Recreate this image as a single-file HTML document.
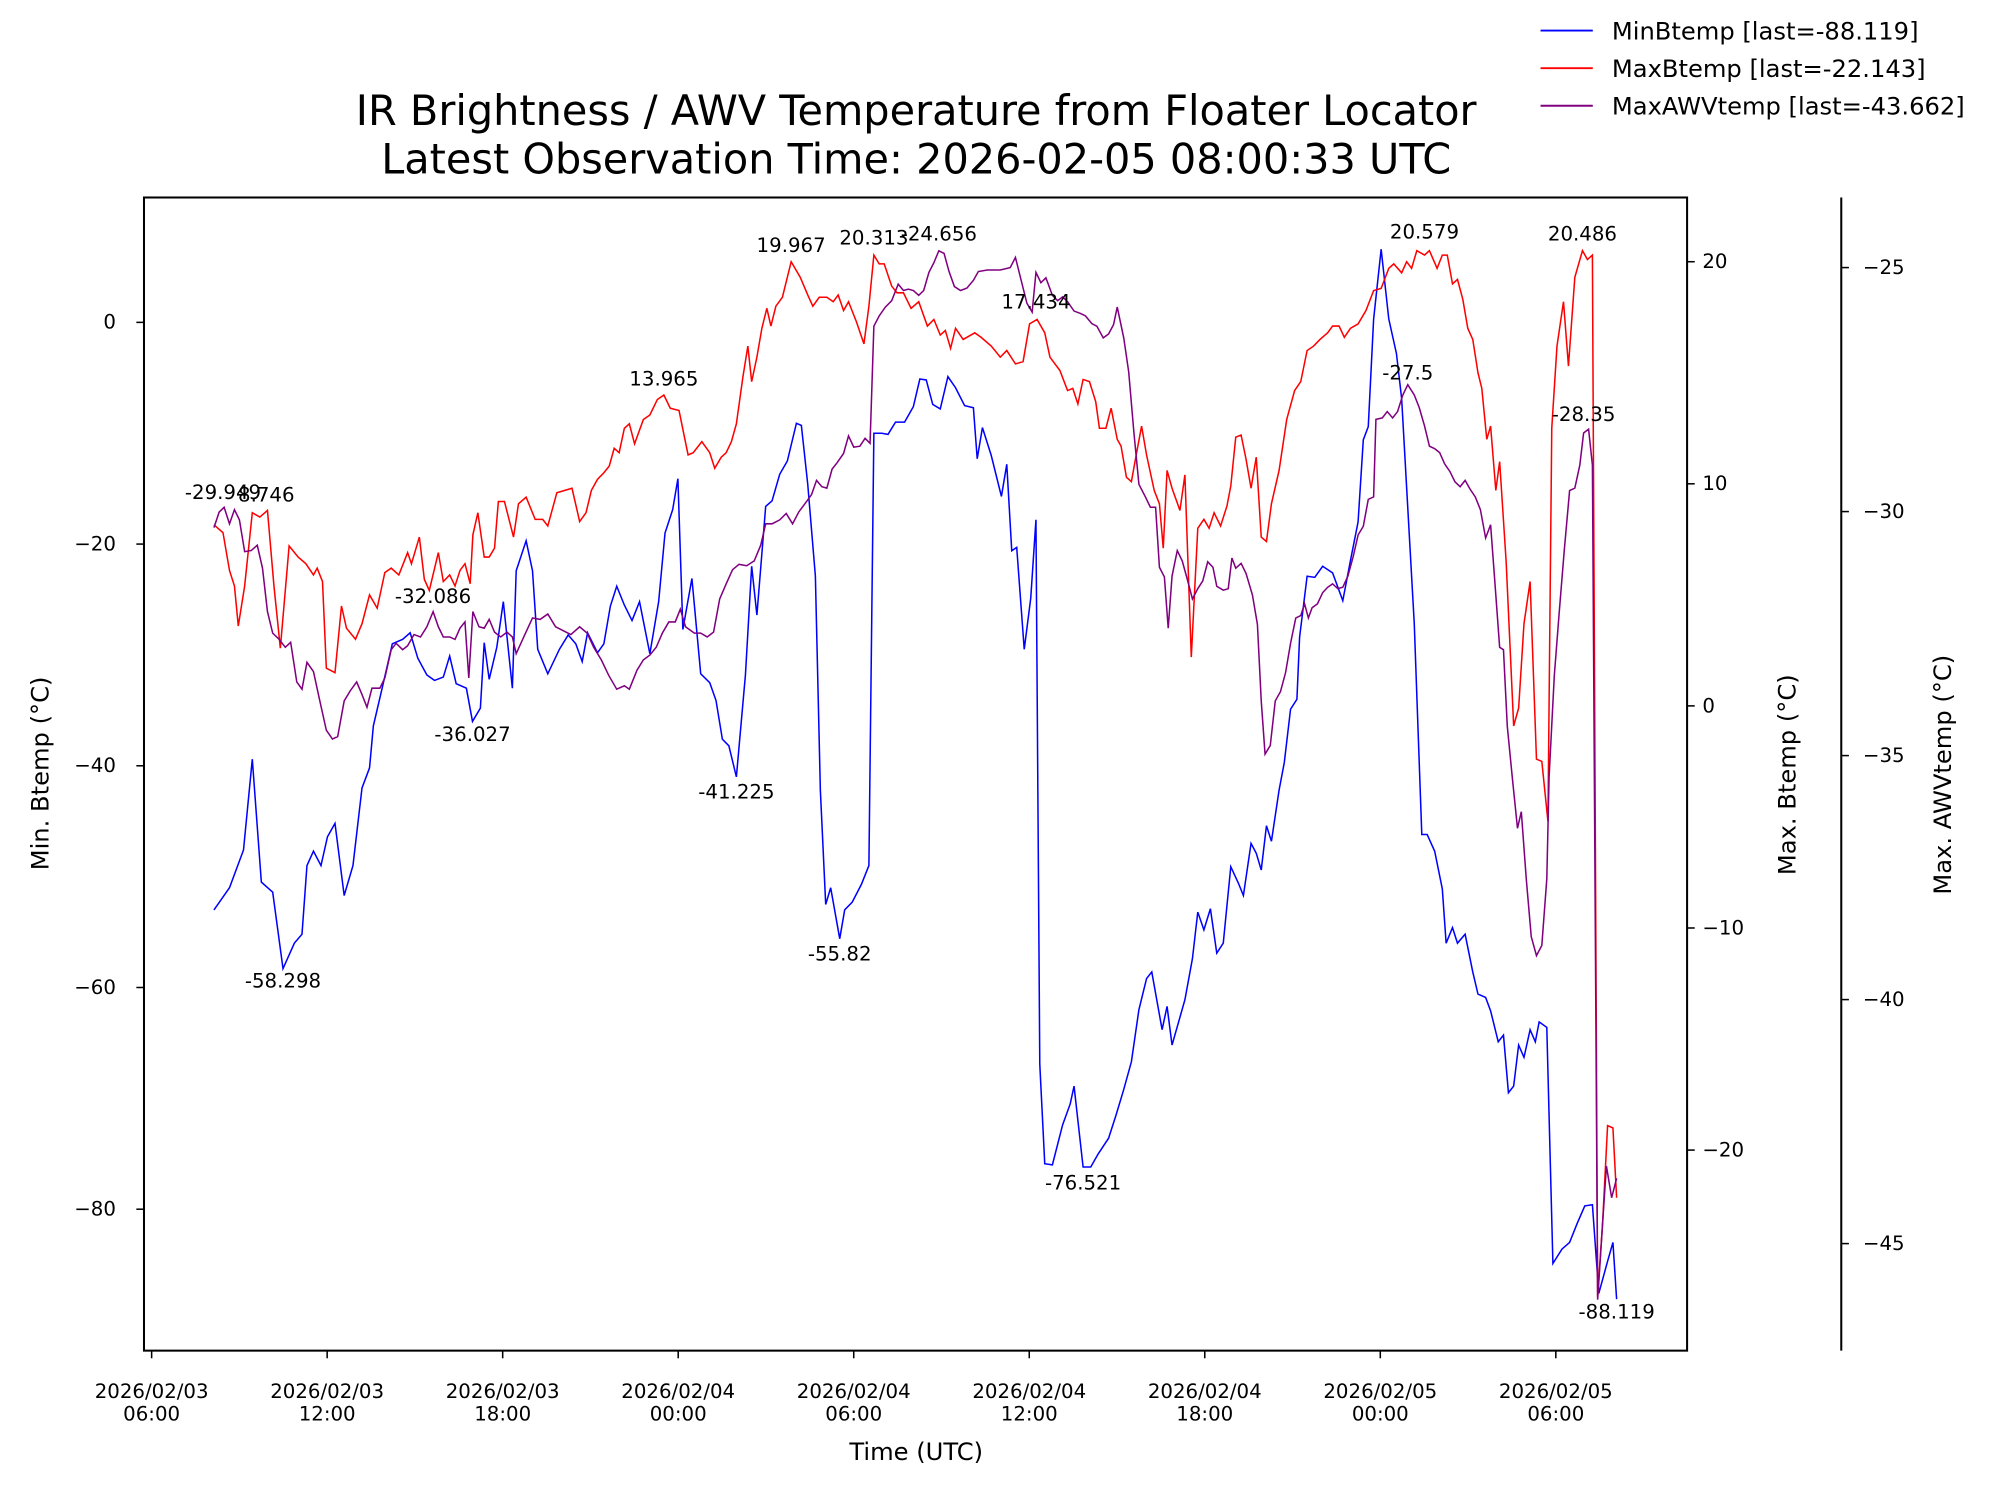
<!DOCTYPE html>
<html><head><meta charset="utf-8"><style>
html,body{margin:0;padding:0;background:#fff;}
svg{display:block;font-family:"DejaVu Sans","Liberation Sans",sans-serif;}
</style></head><body>
<svg id="chart" width="1998" height="1495" viewBox="0 0 1568 1173.3" preserveAspectRatio="none" xmlns="http://www.w3.org/2000/svg">
<rect x="0" y="0" width="1568" height="1174" fill="#fff"/>
<g id="plot"></g>
</svg>
<script>
const minT=[2.13,2.66,3.14,3.44,3.75,4.14,4.49,4.88,5.14,5.31,5.53,5.79,6.01,6.27,6.58,6.88,7.19,7.45,7.58,7.88,8.23,8.58,8.84,9.10,9.41,9.67,9.97,10.19,10.41,10.76,10.97,11.24,11.37,11.54,11.80,12.02,12.33,12.46,12.80,13.02,13.20,13.54,13.94,14.24,14.50,14.72,14.90,15.24,15.46,15.68,15.90,16.16,16.42,16.68,17.03,17.33,17.55,17.81,17.99,18.16,18.47,18.77,19.08,19.29,19.51,19.73,19.99,20.30,20.51,20.69,20.99,21.21,21.47,21.73,22.04,22.21,22.43,22.69,22.86,23.04,23.21,23.52,23.69,23.95,24.26,24.52,24.69,24.96,25.17,25.43,25.74,26.04,26.26,26.48,26.70,26.96,27.22,27.48,27.79,28.09,28.22,28.40,28.70,29.05,29.23,29.40,29.57,29.83,30.05,30.23,30.36,30.53,30.79,31.14,31.40,31.53,31.84,32.10,32.36,32.71,32.97,33.23,33.49,33.75,34.01,34.19,34.54,34.71,34.88,35.32,35.58,35.76,35.97,36.19,36.41,36.63,36.89,37.15,37.32,37.58,37.76,37.93,38.11,38.28,38.54,38.72,38.93,39.15,39.24,39.50,39.76,40.03,40.37,40.72,40.98,41.24,41.42,41.59,41.77,42.03,42.29,42.55,42.73,42.99,43.16,43.42,43.60,43.86,44.12,44.25,44.47,44.64,44.90,45.16,45.34,45.60,45.77,46.03,46.21,46.38,46.56,46.73,46.91,47.12,47.30,47.43,47.69,47.90,48.21,48.47,48.73,48.99,49.25,49.47,49.77,49.95,50.08];
const minV=[-53,-51,-47.6,-39.4,-50.5,-51.4,-58.3,-56,-55.2,-49,-47.7,-49,-46.4,-45.2,-51.7,-49,-42,-40.2,-36.4,-33,-29,-28.6,-28,-30.3,-31.8,-32.3,-32,-30.1,-32.6,-33,-36,-34.8,-28.9,-32.2,-29.3,-25.2,-33,-22.4,-19.7,-22.4,-29.5,-31.7,-29.5,-28.2,-29,-30.6,-28,-29.8,-29,-25.6,-23.8,-25.5,-26.9,-25.2,-29.9,-25.2,-19,-16.9,-14.1,-27.7,-23.1,-31.7,-32.5,-34.1,-37.6,-38.2,-41,-31.8,-22,-26.4,-16.6,-16.1,-13.7,-12.5,-9.1,-9.3,-14.6,-22.9,-42.2,-52.5,-51,-55.6,-53,-52.3,-50.7,-49,-10,-10,-10.1,-9,-9,-7.6,-5.1,-5.2,-7.4,-7.8,-4.9,-5.9,-7.5,-7.7,-12.3,-9.5,-12,-15.7,-12.8,-20.6,-20.3,-29.5,-24.9,-17.8,-66.9,-75.9,-76,-72.4,-70.5,-68.9,-76.2,-76.2,-75,-73.6,-71.5,-69.2,-66.7,-62,-59.2,-58.6,-63.8,-61.7,-65.2,-61.1,-57.4,-53.2,-54.8,-52.9,-56.9,-56,-49.1,-50.6,-51.7,-47,-47.9,-49.4,-45.4,-46.8,-42.2,-39.7,-34.9,-34,-28.4,-22.9,-23,-22,-22.6,-25.1,-21.5,-18,-10.6,-9.4,0.3,6.6,0.3,-2.8,-6.9,-19.2,-27.2,-46.2,-46.2,-47.7,-51.1,-56,-54.6,-56,-55.2,-58.6,-60.6,-60.9,-62.1,-64.9,-64.3,-69.5,-68.9,-65.2,-66.3,-63.8,-64.9,-63.1,-63.6,-84.9,-83.6,-83,-81.3,-79.7,-79.6,-87.6,-84.7,-83,-88.119];
const maxT=[2.13,2.44,2.66,2.83,2.96,3.18,3.44,3.70,3.96,4.18,4.40,4.70,5.01,5.27,5.53,5.66,5.84,5.97,6.27,6.49,6.66,6.97,7.19,7.45,7.71,7.97,8.19,8.45,8.75,8.88,9.15,9.32,9.49,9.80,9.97,10.19,10.37,10.54,10.71,10.89,10.98,11.15,11.37,11.54,11.72,11.85,12.06,12.37,12.54,12.80,13.11,13.37,13.54,13.85,14.37,14.63,14.85,15.03,15.24,15.46,15.64,15.81,15.98,16.16,16.33,16.51,16.81,17.03,17.29,17.51,17.73,18.03,18.34,18.51,18.81,19.08,19.25,19.47,19.64,19.82,19.99,20.21,20.38,20.51,20.69,20.86,21.03,21.17,21.34,21.56,21.86,22.17,22.43,22.60,22.82,23.08,23.30,23.47,23.65,23.82,24.09,24.35,24.52,24.69,24.87,25.04,25.30,25.48,25.70,25.96,26.22,26.52,26.74,26.96,27.13,27.31,27.48,27.74,28.14,28.35,28.70,29.01,29.23,29.53,29.79,30.01,30.27,30.53,30.71,31.05,31.31,31.49,31.66,31.84,32.06,32.27,32.40,32.62,32.80,33.01,33.14,33.32,33.49,33.67,33.84,34.01,34.27,34.45,34.58,34.71,34.88,35.15,35.32,35.54,35.76,35.97,36.15,36.32,36.54,36.76,36.89,37.06,37.24,37.41,37.58,37.76,37.93,38.11,38.28,38.54,38.80,39.07,39.28,39.50,39.72,39.94,40.20,40.37,40.59,40.77,40.98,41.24,41.51,41.77,42.03,42.29,42.46,42.73,42.90,43.07,43.25,43.51,43.68,43.94,44.12,44.29,44.47,44.64,44.82,44.99,45.16,45.34,45.47,45.64,45.77,45.95,46.08,46.30,46.56,46.73,46.91,47.12,47.34,47.52,47.73,47.86,48.04,48.26,48.43,48.65,48.91,49.08,49.25,49.43,49.60,49.77,49.95,50.08];
const maxV=[8.15,7.8,6.1,5.4,3.6,5.4,8.7,8.5,8.8,5.4,2.6,7.2,6.7,6.4,5.9,6.2,5.6,1.7,1.5,4.5,3.5,3.0,3.7,5.0,4.4,6.0,6.2,5.9,6.9,6.4,7.6,5.7,5.2,6.9,5.6,5.9,5.4,6.1,6.4,5.5,7.7,8.7,6.7,6.7,7.1,9.2,9.2,7.6,9.1,9.4,8.4,8.4,8.1,9.6,9.8,8.3,8.7,9.7,10.2,10.5,10.8,11.6,11.4,12.5,12.7,11.8,12.9,13.1,13.8,14.0,13.4,13.3,11.3,11.4,11.9,11.4,10.7,11.2,11.4,11.9,12.7,14.8,16.2,14.6,15.7,17.0,17.9,17.1,18.0,18.4,20.0,19.3,18.5,18.0,18.4,18.4,18.2,18.5,17.8,18.2,17.3,16.3,18.0,20.3,19.9,19.9,18.9,18.6,18.6,17.9,18.2,17.1,17.4,16.7,16.9,16.1,17.0,16.5,16.8,16.6,16.2,15.7,16.0,15.4,15.5,17.2,17.4,16.8,15.7,15.1,14.2,14.3,13.6,14.7,14.6,13.7,12.5,12.5,13.4,12.0,11.7,10.3,10.1,11.4,12.6,11.3,9.7,9.1,7.1,10.6,9.8,8.8,10.4,2.2,8.0,8.4,8.0,8.7,8.1,9.0,9.9,12.1,12.2,11.1,9.8,11.2,7.6,7.4,9.1,10.6,12.9,14.2,14.6,16.0,16.2,16.5,16.8,17.1,17.1,16.6,17.0,17.2,17.8,18.7,18.8,19.7,19.9,19.5,20.0,19.7,20.5,20.3,20.5,19.7,20.3,20.3,19.0,19.2,18.3,17.0,16.5,15.0,14.3,12.0,12.6,9.7,11.0,6.5,-0.9,-0.1,3.7,5.6,-2.4,-2.5,-5.2,12.5,16.2,18.2,15.3,19.3,20.5,20.1,20.3,-26.6,-23.3,-18.9,-19.0,-22.143];
const awvT=[2.13,2.31,2.48,2.66,2.83,3.00,3.18,3.40,3.61,3.79,3.96,4.14,4.36,4.57,4.75,4.96,5.14,5.31,5.53,5.75,5.97,6.18,6.36,6.58,6.79,7.01,7.19,7.36,7.53,7.80,7.97,8.19,8.36,8.58,8.75,8.97,9.19,9.41,9.62,9.80,9.97,10.19,10.37,10.54,10.71,10.84,10.98,11.19,11.37,11.54,11.72,11.93,12.15,12.33,12.46,12.76,13.02,13.28,13.54,13.81,14.07,14.33,14.63,14.89,15.11,15.37,15.63,15.90,16.16,16.33,16.59,16.81,17.03,17.25,17.46,17.68,17.90,18.07,18.25,18.55,18.77,18.99,19.21,19.42,19.64,19.86,20.08,20.34,20.60,20.82,20.99,21.21,21.47,21.69,21.91,22.12,22.38,22.56,22.73,22.91,23.08,23.26,23.43,23.65,23.82,24.00,24.21,24.39,24.56,24.69,24.87,25.08,25.30,25.52,25.70,25.87,26.04,26.22,26.39,26.57,26.74,26.91,27.09,27.26,27.44,27.65,27.87,28.09,28.26,28.57,29.01,29.35,29.53,29.70,29.92,30.10,30.23,30.40,30.57,30.79,30.97,31.14,31.31,31.53,31.75,31.92,32.14,32.31,32.53,32.71,32.88,33.01,33.23,33.40,33.58,33.75,33.97,34.14,34.32,34.45,34.62,34.75,34.88,35.06,35.23,35.41,35.58,35.76,35.93,36.10,36.28,36.41,36.63,36.80,36.93,37.06,37.24,37.41,37.63,37.80,37.93,38.06,38.24,38.41,38.59,38.76,38.93,39.11,39.28,39.41,39.54,39.67,39.85,40.03,40.20,40.37,40.55,40.72,40.89,41.07,41.24,41.42,41.59,41.77,41.85,42.07,42.24,42.42,42.59,42.77,42.94,43.16,43.33,43.51,43.68,43.86,44.03,44.20,44.38,44.55,44.73,44.90,45.07,45.25,45.42,45.60,45.77,45.90,46.08,46.21,46.34,46.51,46.69,46.82,46.99,47.16,47.34,47.52,47.69,47.77,47.95,48.12,48.29,48.47,48.65,48.82,48.95,49.12,49.25,49.43,49.60,49.73,49.91,50.08];
const awvV=[-30.33,-30.01,-29.91,-30.25,-29.96,-30.17,-30.82,-30.80,-30.69,-31.16,-32.05,-32.49,-32.62,-32.78,-32.68,-33.49,-33.64,-33.09,-33.28,-33.88,-34.48,-34.66,-34.61,-33.88,-33.67,-33.49,-33.75,-34.01,-33.62,-33.62,-33.41,-32.83,-32.70,-32.83,-32.75,-32.52,-32.57,-32.36,-32.05,-32.36,-32.57,-32.57,-32.62,-32.39,-32.26,-33.41,-32.05,-32.36,-32.39,-32.21,-32.47,-32.57,-32.47,-32.57,-32.91,-32.52,-32.18,-32.21,-32.10,-32.36,-32.44,-32.52,-32.36,-32.49,-32.78,-33.04,-33.36,-33.64,-33.57,-33.64,-33.25,-33.04,-32.94,-32.78,-32.49,-32.26,-32.26,-32.00,-32.36,-32.49,-32.49,-32.57,-32.47,-31.79,-31.48,-31.19,-31.08,-31.11,-31.01,-30.69,-30.25,-30.25,-30.17,-30.04,-30.25,-30.01,-29.80,-29.65,-29.36,-29.49,-29.52,-29.13,-29.00,-28.81,-28.45,-28.68,-28.66,-28.50,-28.60,-26.20,-25.99,-25.81,-25.68,-25.34,-25.47,-25.44,-25.47,-25.57,-25.47,-25.10,-24.90,-24.656,-24.71,-25.08,-25.39,-25.47,-25.42,-25.26,-25.08,-25.05,-25.05,-25.00,-24.79,-25.21,-25.73,-25.91,-25.10,-25.31,-25.21,-25.57,-25.68,-25.60,-25.70,-25.89,-25.94,-25.99,-26.15,-26.20,-26.44,-26.36,-26.17,-25.81,-26.44,-27.14,-28.39,-29.44,-29.70,-29.91,-29.91,-31.14,-31.34,-32.39,-31.32,-30.80,-31.01,-31.40,-31.79,-31.58,-31.42,-31.03,-31.14,-31.53,-31.61,-31.58,-30.95,-31.16,-31.06,-31.27,-31.71,-32.31,-33.88,-34.97,-34.79,-33.88,-33.69,-33.30,-32.70,-32.18,-32.13,-31.89,-32.18,-31.97,-31.89,-31.66,-31.55,-31.48,-31.58,-31.55,-31.32,-30.93,-30.48,-30.30,-29.75,-29.70,-28.11,-28.08,-27.95,-28.08,-27.95,-27.61,-27.40,-27.61,-27.87,-28.24,-28.66,-28.71,-28.79,-29.02,-29.18,-29.39,-29.49,-29.36,-29.54,-29.70,-29.96,-30.54,-30.27,-31.32,-32.78,-32.83,-34.40,-35.44,-36.49,-36.15,-37.53,-38.71,-39.10,-38.89,-37.53,-35.44,-33.36,-32.05,-30.80,-29.57,-29.52,-29.05,-28.39,-28.31,-29.05,-46.15,-44.58,-43.41,-44.06,-43.662];
const annT=[2.44,3.92,9.62,10.97,17.51,19.99,21.86,23.52,24.69,26.91,30.23,31.84,43.51,42.94,48.91,48.95,4.49,50.08];
const annV=[-29.949,8.746,-32.086,-36.027,13.965,-41.225,19.967,-55.82,20.313,-24.656,17.434,-76.521,20.579,-27.5,20.486,-28.35,-58.298,-88.119];
const annAxis=[2,1,2,0,1,0,1,0,1,2,1,0,1,2,1,2,0,0];
const annText=["-29.949","8.746","-32.086","-36.027","13.965","-41.225","19.967","-55.82","20.313","-24.656","17.434","-76.521","20.579","-27.5","20.486","-28.35","-58.298","-88.119"];
const annAbove=[1,1,1,0,1,0,1,0,1,1,1,0,1,1,1,1,0,0];
const xTickHours=[0,6,12,18,24,30,36,42,48];
const xTickLine1=["2026/02/03","2026/02/03","2026/02/03","2026/02/04","2026/02/04","2026/02/04","2026/02/04","2026/02/05","2026/02/05"];
const xTickLine2=["06:00","12:00","18:00","00:00","06:00","12:00","18:00","00:00","06:00"];
const minTicks=[0,-20,-40,-60,-80];
const maxTicks=[20,10,0,-10,-20];
const awvTicks=[-25,-30,-35,-40,-45];

const NS="http://www.w3.org/2000/svg";
const L=113,R=1324,T=155,B=1060;
const FS=15.5;
const xs=h=>119+h*22.958;
const yMin=v=>253-v*8.7;
const yMax=v=>554-v*17.43;
const yAwv=v=>210-(v+25)*38.3;
const yF=[yMin,yMax,yAwv];
const g=document.getElementById('plot');
function mk(tag,attrs,parent){const e=document.createElementNS(NS,tag);for(const k in attrs)e.setAttribute(k,attrs[k]);(parent||g).appendChild(e);return e;}
function txt(x,y,s,size,anchor,extra){const e=mk('text',Object.assign({x:x,y:y,'font-size':size,'text-anchor':anchor||'start',fill:'#000'},extra||{}));e.textContent=s;return e;}

const series=[[minT,minV,yMin,'#0000ff','min-btemp-line'],[maxT,maxV,yMax,'#ff0000','max-btemp-line'],[awvT,awvV,yAwv,'#800080','max-awv-temp-line']];
const clip=mk('clipPath',{id:'pc'});mk('rect',{x:L,y:T,width:R-L,height:B-T},clip);
series.forEach(s=>{
  const d=s[0].map((t,i)=>(i?'L':'M')+xs(t).toFixed(1)+','+s[2](s[1][i]).toFixed(1)).join('');
  const p=mk('path',{d:d,fill:'none',stroke:s[3],'stroke-width':1.2,'clip-path':'url(#pc)'});
  
  
});
annT.forEach((t,i)=>{
  const y=yF[annAxis[i]](annV[i]);
  const e=txt(xs(t),annAbove[i]?y-8:y+15,annText[i],FS,'middle');
  
  
});
const fr=mk('rect',{x:L,y:T,width:R-L,height:B-T,fill:'none',stroke:'#000','stroke-width':1.6});


xTickHours.forEach((h,i)=>{
  const x=xs(h);
  mk('line',{x1:x,y1:B,x2:x,y2:B+6,stroke:'#000','stroke-width':1.2});
  const a=txt(x,1097,xTickLine1[i],FS,'middle');
  
  
  const b=txt(x,1115,xTickLine2[i],FS,'middle');
  
  
});
minTicks.forEach(v=>{const y=yMin(v);mk('line',{x1:L-6,y1:y,x2:L,y2:y,stroke:'#000','stroke-width':1.2});
  const e=txt(91,y+5,String(v).replace('-','−'),FS,'end');
  
  });
maxTicks.forEach(v=>{const y=yMax(v);mk('line',{x1:R,y1:y,x2:R+6,y2:y,stroke:'#000','stroke-width':1.2});
  const e=txt(1336,y+5,String(v).replace('-','−'),FS,'start');
  
  });
mk('line',{x1:1445,y1:T,x2:1445,y2:B,stroke:'#000','stroke-width':1.6});
awvTicks.forEach(v=>{const y=yAwv(v);mk('line',{x1:1445,y1:y,x2:1451,y2:y,stroke:'#000','stroke-width':1.2});
  const e=txt(1462,y+5,String(v).replace('-','−'),FS,'start');
  
  });
let e;
e=txt(719,98,'IR Brightness / AWV Temperature from Floater Locator',32.5,'middle');


e=txt(719,136,'Latest Observation Time: 2026-02-05 08:00:33 UTC',32.5,'middle');


e=txt(719,1146,'Time (UTC)',19,'middle');


e=txt(0,0,'Min. Btemp (°C)',19,'middle',{transform:'translate(38,607) rotate(-90)'});


e=txt(0,0,'Max. Btemp (°C)',19,'middle',{transform:'translate(1409,608) rotate(-90)'});


e=txt(0,0,'Max. AWVtemp (°C)',19,'middle',{transform:'translate(1531,608) rotate(-90)'});


const legText=['MinBtemp [last=-88.119]','MaxBtemp [last=-22.143]','MaxAWVtemp [last=-43.662]'];
const legCol=['#0000ff','#ff0000','#800080'];
legText.forEach((s,i)=>{const y=24+i*29.5;
  const ln=mk('line',{x1:1209,y1:y,x2:1250,y2:y,stroke:legCol[i],'stroke-width':1.5});
  
  
  const t=txt(1265,y+7,s,19,'start');
  
  
});
</script>
</body></html>
